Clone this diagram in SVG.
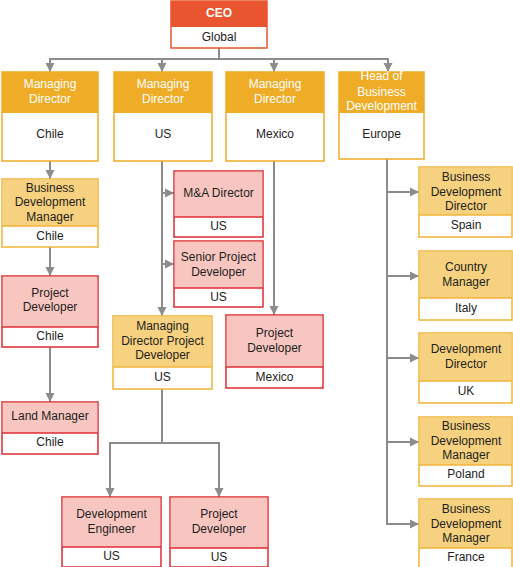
<svg xmlns="http://www.w3.org/2000/svg" width="513" height="567" viewBox="0 0 513 567">
<defs>
<style>
text{font-family:"Liberation Sans",Arial,sans-serif;font-size:12px;text-anchor:middle;fill:#1e1e1e}
.w{fill:#ffffff}
.b{font-weight:bold}
.ceo{fill:#ffffff;stroke:#E8552F;stroke-width:1.5}
.ceoh{fill:#E8552F}
.md{fill:#ffffff;stroke:#EFAC27;stroke-width:1.5}
.mdh{fill:#EFAC27}
.lt{fill:#ffffff;stroke:#F0B43A;stroke-width:1.5}
.lth{fill:#F6D17F}
.pk{fill:#ffffff;stroke:#DE2B33;stroke-width:1.5}
.pkh{fill:#F7C6C1}
.sep-lt{stroke:#F0B43A;stroke-width:1.5}
.sep-pk{stroke:#DE2B33;stroke-width:1.5}
.c{fill:none;stroke:#8C8C8C;stroke-width:2}
.a{marker-end:url(#arr)}
</style>
<marker id="arr" markerUnits="userSpaceOnUse" markerWidth="10" markerHeight="10" refX="9" refY="5" orient="auto">
<path d="M0,0.5 L9,5 L0,9.5 z" fill="#8C8C8C"/>
</marker>
</defs>

<g id="connectors">
<line class="c" x1="219" y1="48" x2="219" y2="59"/>
<line class="c" x1="49" y1="59" x2="389" y2="59"/>
<line class="c a" x1="50" y1="59" x2="50" y2="72"/>
<line class="c a" x1="162" y1="59" x2="162" y2="72"/>
<line class="c a" x1="274" y1="59" x2="274" y2="72"/>
<line class="c a" x1="388" y1="59" x2="388" y2="72"/>
<line class="c a" x1="50" y1="161" x2="50" y2="179"/>
<line class="c a" x1="50" y1="247" x2="50" y2="276"/>
<line class="c a" x1="50" y1="347" x2="50" y2="402"/>
<line class="c a" x1="162" y1="161" x2="162" y2="316"/>
<line class="c a" x1="162" y1="193" x2="174" y2="193"/>
<line class="c a" x1="162" y1="264" x2="174" y2="264"/>
<line class="c a" x1="274" y1="161" x2="274" y2="315"/>
<line class="c" x1="162" y1="389" x2="162" y2="443"/>
<polyline class="c a" points="162,443 110,443 110,497"/>
<polyline class="c a" points="162,443 219,443 219,497"/>
<line class="c" x1="387" y1="159" x2="387" y2="525"/>
<line class="c a" x1="387" y1="192" x2="419" y2="192"/>
<line class="c a" x1="387" y1="276" x2="419" y2="276"/>
<line class="c a" x1="387" y1="358" x2="419" y2="358"/>
<line class="c a" x1="387" y1="442" x2="419" y2="442"/>
<line class="c a" x1="386" y1="524" x2="419" y2="524"/>
</g>

<g id="ceo">
<rect class="ceo" x="171" y="1" width="96" height="47"/>
<rect class="ceoh" x="171" y="1" width="96" height="26"/>
<text class="w b" x="219" y="17">CEO</text>
<text x="219" y="41">Global</text>
</g>

<g id="md-chile">
<rect class="md" x="2" y="72" width="96" height="89"/>
<rect class="mdh" x="2" y="72" width="96" height="41"/>
<text class="w" x="50" y="88">Managing</text>
<text class="w" x="50" y="103">Director</text>
<text x="50" y="138">Chile</text>
</g>

<g id="md-us">
<rect class="md" x="114" y="72" width="98" height="89"/>
<rect class="mdh" x="114" y="72" width="98" height="41"/>
<text class="w" x="163" y="88">Managing</text>
<text class="w" x="163" y="103">Director</text>
<text x="163" y="138">US</text>
</g>

<g id="md-mexico">
<rect class="md" x="226" y="72" width="98" height="89"/>
<rect class="mdh" x="226" y="72" width="98" height="41"/>
<text class="w" x="275" y="88">Managing</text>
<text class="w" x="275" y="103">Director</text>
<text x="275" y="138">Mexico</text>
</g>

<g id="head-bd-europe">
<rect class="md" x="339" y="72" width="85" height="87"/>
<rect class="mdh" x="339" y="72" width="85" height="41"/>
<text class="w" x="381.5" y="80">Head of</text>
<text class="w" x="381.5" y="96">Business</text>
<text class="w" x="381.5" y="110">Development</text>
<text x="381.5" y="138">Europe</text>
</g>

<g id="bdm-chile">
<rect class="lt" x="2" y="179" width="96" height="68"/>
<rect class="lth" x="2.75" y="179.75" width="94.5" height="46.25"/>
<line class="sep-lt" x1="2" y1="226" x2="98" y2="226"/>
<text x="50" y="192">Business</text>
<text x="50" y="206">Development</text>
<text x="50" y="221">Manager</text>
<text x="50" y="240">Chile</text>
</g>

<g id="pd-chile">
<rect class="pk" x="2" y="276" width="96" height="71"/>
<rect class="pkh" x="2.75" y="276.75" width="94.5" height="50.25"/>
<line class="sep-pk" x1="2" y1="327" x2="98" y2="327"/>
<text x="50" y="297">Project</text>
<text x="50" y="311">Developer</text>
<text x="50" y="340">Chile</text>
</g>

<g id="land-manager-chile">
<rect class="pk" x="2" y="402" width="96" height="52"/>
<rect class="pkh" x="2.75" y="402.75" width="94.5" height="30.25"/>
<line class="sep-pk" x1="2" y1="433" x2="98" y2="433"/>
<text x="50" y="420">Land Manager</text>
<text x="50" y="446">Chile</text>
</g>

<g id="ma-director-us">
<rect class="pk" x="174" y="171" width="89" height="66"/>
<rect class="pkh" x="174.75" y="171.75" width="87.5" height="45.25"/>
<line class="sep-pk" x1="174" y1="217" x2="263" y2="217"/>
<text x="218.5" y="197">M&amp;A Director</text>
<text x="218.5" y="230">US</text>
</g>

<g id="spd-us">
<rect class="pk" x="174" y="241" width="89" height="66"/>
<rect class="pkh" x="174.75" y="241.75" width="87.5" height="46.25"/>
<line class="sep-pk" x1="174" y1="288" x2="263" y2="288"/>
<text x="218.5" y="261">Senior Project</text>
<text x="218.5" y="276">Developer</text>
<text x="218.5" y="301">US</text>
</g>

<g id="mdpd-us">
<rect class="lt" x="113" y="316" width="99" height="73"/>
<rect class="lth" x="113.75" y="316.75" width="97.5" height="50.25"/>
<line class="sep-lt" x1="113" y1="367" x2="212" y2="367"/>
<text x="162.5" y="330">Managing</text>
<text x="162.5" y="345">Director Project</text>
<text x="162.5" y="359">Developer</text>
<text x="162.5" y="381">US</text>
</g>

<g id="pd-mexico">
<rect class="pk" x="226" y="315" width="97" height="73"/>
<rect class="pkh" x="226.75" y="315.75" width="95.5" height="51.25"/>
<line class="sep-pk" x1="226" y1="367" x2="323" y2="367"/>
<text x="274.5" y="337">Project</text>
<text x="274.5" y="352">Developer</text>
<text x="274.5" y="381">Mexico</text>
</g>

<g id="dev-engineer-us">
<rect class="pk" x="62" y="497" width="99" height="70"/>
<rect class="pkh" x="62.75" y="497.75" width="97.5" height="49.25"/>
<line class="sep-pk" x1="62" y1="547" x2="161" y2="547"/>
<text x="111.5" y="518">Development</text>
<text x="111.5" y="533">Engineer</text>
<text x="111.5" y="560">US</text>
</g>

<g id="pd-us">
<rect class="pk" x="170" y="497" width="98" height="70"/>
<rect class="pkh" x="170.75" y="497.75" width="96.5" height="50.25"/>
<line class="sep-pk" x1="170" y1="548" x2="268" y2="548"/>
<text x="219" y="518">Project</text>
<text x="219" y="533">Developer</text>
<text x="219" y="561">US</text>
</g>

<g id="bdd-spain">
<rect class="lt" x="419" y="167" width="93" height="70"/>
<rect class="lth" x="419.75" y="167.75" width="91.5" height="47.25"/>
<line class="sep-lt" x1="419" y1="215" x2="512" y2="215"/>
<text x="466" y="181">Business</text>
<text x="466" y="196">Development</text>
<text x="466" y="210">Director</text>
<text x="466" y="229">Spain</text>
</g>

<g id="cm-italy">
<rect class="lt" x="419" y="251" width="93" height="69"/>
<rect class="lth" x="419.75" y="251.75" width="91.5" height="46.25"/>
<line class="sep-lt" x1="419" y1="298" x2="512" y2="298"/>
<text x="466" y="271">Country</text>
<text x="466" y="286">Manager</text>
<text x="466" y="312">Italy</text>
</g>

<g id="dd-uk">
<rect class="lt" x="419" y="333" width="93" height="70"/>
<rect class="lth" x="419.75" y="333.75" width="91.5" height="47.25"/>
<line class="sep-lt" x1="419" y1="381" x2="512" y2="381"/>
<text x="466" y="353">Development</text>
<text x="466" y="368">Director</text>
<text x="466" y="395">UK</text>
</g>

<g id="bdm-poland">
<rect class="lt" x="419" y="417" width="93" height="69"/>
<rect class="lth" x="419.75" y="417.75" width="91.5" height="47.25"/>
<line class="sep-lt" x1="419" y1="465" x2="512" y2="465"/>
<text x="466" y="430">Business</text>
<text x="466" y="445">Development</text>
<text x="466" y="459">Manager</text>
<text x="466" y="478">Poland</text>
</g>

<g id="bdm-france">
<rect class="lt" x="419" y="499" width="93" height="70"/>
<rect class="lth" x="419.75" y="499.75" width="91.5" height="48.25"/>
<line class="sep-lt" x1="419" y1="548" x2="512" y2="548"/>
<text x="466" y="513">Business</text>
<text x="466" y="528">Development</text>
<text x="466" y="542">Manager</text>
<text x="466" y="561">France</text>
</g>
</svg>
